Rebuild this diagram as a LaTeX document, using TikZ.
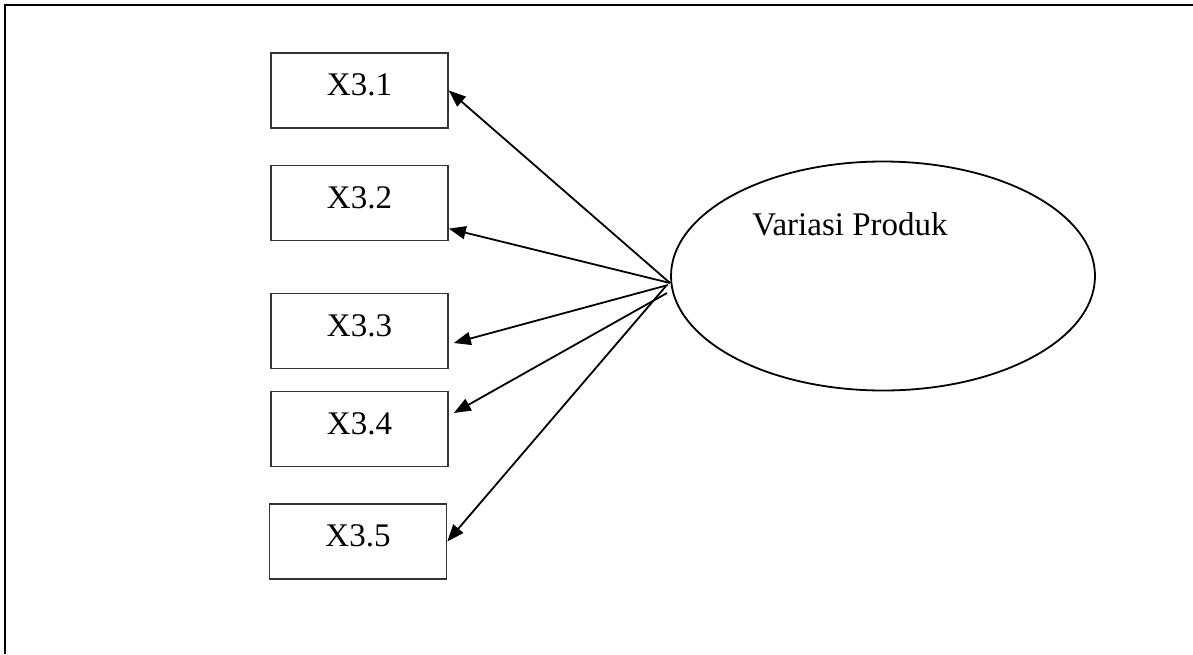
\documentclass[tikz,border=0pt]{standalone}
\usepackage{fontspec}
\setmainfont{Liberation Serif}
\usetikzlibrary{arrows.meta,shapes.geometric}
\tikzset{
    ind/.style={draw=black!80, line width=0.8pt, minimum width=88.5pt, minimum height=37.5pt, text depth=5.5pt, inner sep=0pt},
    lat/.style={draw, ellipse, line width=0.9pt, minimum width=212pt, minimum height=114.5pt, inner sep=0pt},
    load/.style={->, line width=0.9pt}
}
\begin{document}
\begin{tikzpicture}[x=0.5pt, y=-0.5pt, >={Triangle[length=8.5pt,width=6.5pt]}, font=\fontsize{16.5}{19}\selectfont]
\useasboundingbox (0,0) rectangle (1193,654);
\draw[line width=1pt] (1193,5)--(5,5)--(5,654);

% indikator
\node[ind] (x31) at (359.5,90.5) {X3.1};
\node[ind] (x32) at (359.5,203) {X3.2};
\node[ind] (x33) at (359.5,331) {X3.3};
\node[ind] (x34) at (359.5,429) {X3.4};
\node[ind] (x35) at (358,541.5) {X3.5};

% variabel laten
\node[lat] (vp) at (883,276) {};
\node (vptxt) at (850,224) {Variasi Produk};

\coordinate (s1) at (670,283);
\coordinate (s3) at (668,285);
\coordinate (s4) at (667,293);
\coordinate (s5) at (666,286);

\draw[load] (s1) -- (x31.east);
\draw[load] (s1) -- (x32.-16);
\draw[load] (s3) -- ([shift={(2.5pt,-6pt)}]x33.east);
\draw[load] (s4) -- ([shift={(2.5pt,8pt)}]x34.east);
\draw[load] (s5) -- (x35.east);
\end{tikzpicture}
\end{document}
